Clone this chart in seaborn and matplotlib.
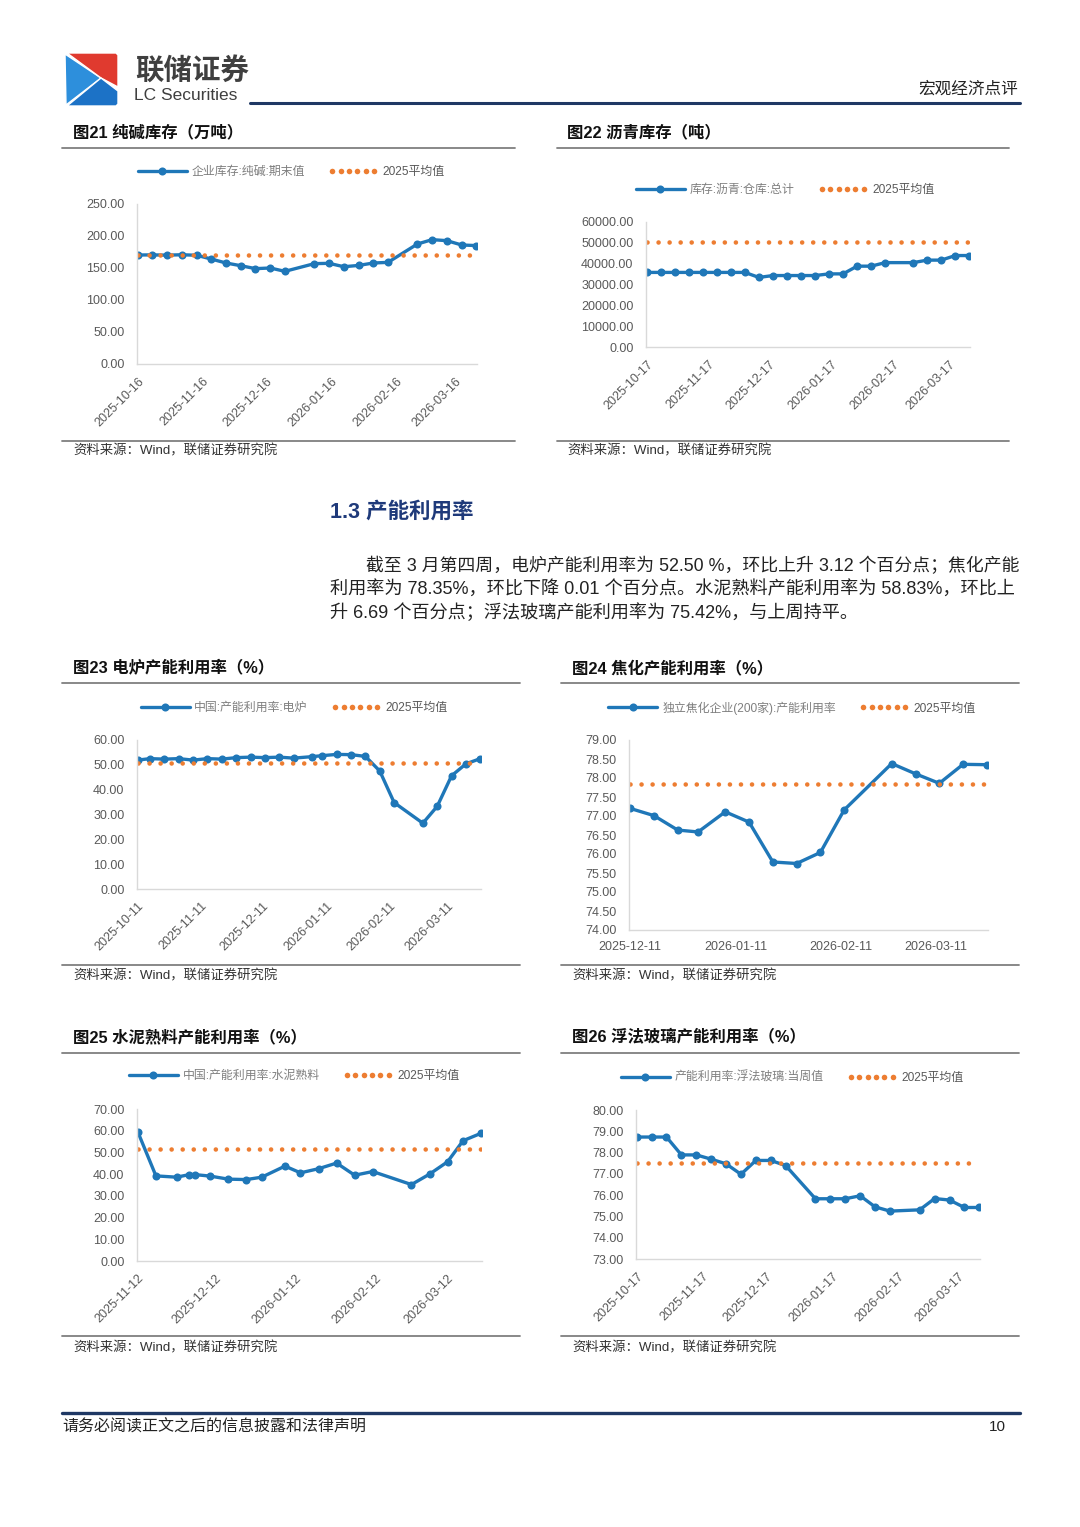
import numpy as np
import pandas as pd
import matplotlib
matplotlib.use("Agg")
import matplotlib.pyplot as plt
from matplotlib.lines import Line2D
from matplotlib.patches import Polygon
from matplotlib.ticker import FormatStrFormatter
from matplotlib.legend_handler import HandlerLine2D
import seaborn as sns

W, H = 1080, 1527

# 图21 纯碱库存（万吨）
soda_dates = ['2025-10-16', '2025-10-23', '2025-10-30', '2025-11-06', '2025-11-13', '2025-11-20',
              '2025-11-27', '2025-12-04', '2025-12-11', '2025-12-18', '2025-12-25', '2026-01-08',
              '2026-01-15', '2026-01-22', '2026-01-29', '2026-02-05', '2026-02-12', '2026-02-26',
              '2026-03-05', '2026-03-12', '2026-03-19', '2026-03-26']
soda_vals = [170.3, 170.5, 170.1, 170.7, 169.9, 164.0, 157.8, 153.6, 149.0, 150.0, 144.8, 156.8,
             157.3, 152.0, 154.0, 157.8, 158.8, 187.5, 194.3, 192.7, 186.0, 185.0]
soda_avg = 169.7
soda_ticks = ['2025-10-16', '2025-11-16', '2025-12-16', '2026-01-16', '2026-02-16', '2026-03-16']

# 图22 沥青库存（吨）
asph_dates = ['2025-10-17', '2025-10-24', '2025-10-31', '2025-11-07', '2025-11-14', '2025-11-21',
              '2025-11-28', '2025-12-05', '2025-12-12', '2025-12-19', '2025-12-26', '2026-01-02',
              '2026-01-09', '2026-01-16', '2026-01-23', '2026-01-30', '2026-02-06', '2026-02-13',
              '2026-02-27', '2026-03-06', '2026-03-13', '2026-03-20', '2026-03-27']
asph_vals = [35800, 35800, 35800, 35800, 35800, 35800, 35800, 35800, 33400, 34300, 34300, 34300,
             34300, 35100, 35100, 38800, 38800, 40500, 40500, 41700, 41700, 43900, 43900]
asph_avg = 50600
asph_ticks = ['2025-10-17', '2025-11-17', '2025-12-17', '2026-01-17', '2026-02-17', '2026-03-17']

# 图23 电炉产能利用率（%）
eaf_dates = ['2025-10-11', '2025-10-17', '2025-10-24', '2025-10-31', '2025-11-07', '2025-11-14',
             '2025-11-21', '2025-11-28', '2025-12-05', '2025-12-12', '2025-12-19', '2025-12-26',
             '2026-01-04', '2026-01-09', '2026-01-16', '2026-01-23', '2026-01-30', '2026-02-06',
             '2026-02-13', '2026-02-27', '2026-03-06', '2026-03-13', '2026-03-20', '2026-03-27']
eaf_vals = [51.9, 52.5, 52.3, 52.5, 51.9, 52.5, 52.3, 52.9, 53.1, 52.9, 53.1, 52.7,
            53.3, 53.7, 54.2, 54.1, 53.4, 47.5, 34.8, 26.5, 33.3, 45.6, 50.4, 52.5]
eaf_avg = 50.6
eaf_ticks = ['2025-10-11', '2025-11-11', '2025-12-11', '2026-01-11', '2026-02-11', '2026-03-11']

# 图24 焦化产能利用率（%）
coke_dates = ['2025-12-11', '2025-12-18', '2025-12-25', '2025-12-31', '2026-01-08', '2026-01-15',
              '2026-01-22', '2026-01-29', '2026-02-05', '2026-02-12', '2026-02-26', '2026-03-05',
              '2026-03-12', '2026-03-19', '2026-03-26']
coke_vals = [77.20, 77.01, 76.63, 76.58, 77.11, 76.84, 75.79, 75.75, 76.04, 77.16, 78.38, 78.11,
             77.86, 78.36, 78.35]
coke_avg = 77.85
coke_ticks = ['2025-12-11', '2026-01-11', '2026-02-11', '2026-03-11']

# 图25 水泥熟料产能利用率（%）
cem_dates = ['2025-11-12', '2025-11-19', '2025-11-27', '2025-12-02', '2025-12-04', '2025-12-10',
             '2025-12-17', '2025-12-24', '2025-12-30', '2026-01-08', '2026-01-14', '2026-01-21',
             '2026-01-28', '2026-02-04', '2026-02-11', '2026-02-26', '2026-03-05', '2026-03-12',
             '2026-03-18', '2026-03-25']
cem_vals = [59.4, 39.2, 38.6, 39.8, 39.8, 39.1, 37.7, 37.5, 38.6, 43.7, 40.6, 42.5,
            45.1, 39.5, 41.2, 35.2, 40.0, 45.7, 55.4, 58.83]
cem_avg = 51.8
cem_ticks = ['2025-11-12', '2025-12-12', '2026-01-12', '2026-02-12', '2026-03-12']

# 图26 浮法玻璃产能利用率（%）
glass_dates = ['2025-10-17', '2025-10-24', '2025-10-31', '2025-11-07', '2025-11-14', '2025-11-21',
               '2025-11-28', '2025-12-05', '2025-12-12', '2025-12-19', '2025-12-26', '2026-01-09',
               '2026-01-16', '2026-01-23', '2026-01-30', '2026-02-06', '2026-02-13', '2026-02-27',
               '2026-03-06', '2026-03-13', '2026-03-20', '2026-03-27']
glass_vals = [78.73, 78.73, 78.73, 77.89, 77.89, 77.69, 77.47, 76.98, 77.63, 77.63, 77.39, 75.83,
              75.83, 75.83, 75.97, 75.45, 75.25, 75.31, 75.84, 75.77, 75.42, 75.42]
glass_avg = 77.53
glass_ticks = ['2025-10-17', '2025-11-17', '2025-12-17', '2026-01-17', '2026-02-17', '2026-03-17']

BLUE = '#1f77b8'
ORANGE = '#ed7d31'
NAVY = '#1f3864'
GRAY = '#595959'

sns.set_theme(style="white")
plt.rcParams['font.family'] = ['Liberation Sans', 'Noto Sans CJK SC', 'DejaVu Sans']
plt.rcParams['axes.unicode_minus'] = False

fig = plt.figure(figsize=(W / 100, H / 100), dpi=100)
fig.patch.set_facecolor('white')


def fx(x):
    return x / W


def fy(y):
    return 1 - y / H


def hline(x0, x1, y, color='#808080', lw=1.2):
    fig.add_artist(Line2D([fx(x0), fx(x1)], [fy(y), fy(y)], color=color, lw=lw,
                          transform=fig.transFigure))


def txt(x, y, s, **kw):
    kw.setdefault('va', 'center')
    fig.text(fx(x), fy(y), s, **kw)


def chart(box, dates, vals, avg, label, ticks, ylim, ystep, leg_xy, rotate=True):
    l, t, r, b = box
    ax = fig.add_axes([fx(l), fy(b), (r - l) / W, (b - t) / H])
    df = pd.DataFrame({'date': pd.to_datetime(dates), 'value': vals})
    df_avg = pd.DataFrame({'date': df['date'], 'value': [avg] * len(df)})
    sns.lineplot(data=df, x='date', y='value', ax=ax, color=BLUE, linewidth=2.4,
                 marker='o', markersize=5.8, markeredgewidth=0, legend=False)
    sns.lineplot(data=df_avg, x='date', y='value', ax=ax, color=ORANGE, linewidth=3.3,
                 linestyle=(0, (0.01, 2.4)), dash_capstyle='round', legend=False)
    pad = pd.Timedelta(hours=8)
    ax.set_xlim(df['date'].min() - pad, df['date'].max() + pad)
    ax.set_ylim(*ylim)
    ax.set_yticks(np.arange(ylim[0], ylim[1] + ystep / 2, ystep))
    ax.yaxis.set_major_formatter(FormatStrFormatter('%.2f'))
    if rotate:
        ax.set_xticks(pd.to_datetime(ticks), labels=ticks, rotation=45, ha='right',
                      rotation_mode='anchor')
    else:
        ax.set_xticks(pd.to_datetime(ticks), labels=ticks)
    ax.set_xlabel('')
    ax.set_ylabel('')
    for s in ['top', 'right']:
        ax.spines[s].set_visible(False)
    for s in ['left', 'bottom']:
        ax.spines[s].set_color('#d9d9d9')
        ax.spines[s].set_linewidth(1.0)
    ax.tick_params(axis='x', direction='in', length=4, color='#d9d9d9', labelsize=9,
                   labelcolor=GRAY, pad=8)
    ax.tick_params(axis='y', length=0, labelsize=9, labelcolor=GRAY, pad=9)

    # legend: line with one marker, and a row of six orange dots
    h_line = Line2D([], [], color=BLUE, lw=2.4, marker='o', markersize=5.8, markeredgewidth=0)
    h_dots = Line2D([], [], color=ORANGE, ls='none', marker='o', markersize=4.0,
                    markeredgewidth=0)
    leg = ax.legend([h_line, h_dots], [label, '2025平均值'],
                    handler_map={h_line: HandlerLine2D(numpoints=1),
                                 h_dots: HandlerLine2D(numpoints=6)},
                    loc='center', bbox_to_anchor=(fx(leg_xy[0]), fy(leg_xy[1])),
                    bbox_transform=fig.transFigure, ncol=2, frameon=False, fontsize=8.6,
                    handlelength=4.1, handletextpad=0.4, columnspacing=2.0)
    for t_, c in zip(leg.get_texts(), ['#7f7f7f', GRAY]):
        t_.set_color(c)
    return ax


# ---- header ----
logo = fig.add_axes([fx(64), fy(107), 56 / W, 56 / H])
logo.set_xlim(64, 120)
logo.set_ylim(107, 51)
logo.axis('off')
logo.add_patch(Polygon([(65, 54), (101, 78), (66, 105)], closed=True, fc='#2d8fdc', ec='white', lw=1))
logo.add_patch(Polygon([(67, 53), (116, 53), (118, 55), (118, 87), (101, 78)], closed=True,
                       fc='#e03a2f', ec='white', lw=1))
logo.add_patch(Polygon([(67, 106), (101, 78), (118, 91), (118, 104), (116, 106)], closed=True,
                       fc='#1c72c6', ec='white', lw=1))
txt(135, 71, '联储证券', fontsize=20.5, fontweight='bold', color='#3f3f3f')
txt(134, 96, 'LC Securities', fontsize=12.5, color='#3f3f3f')
hline(250, 1020, 103, color=NAVY, lw=2.2)
txt(1018, 89, '宏观经济点评', fontsize=12, color='#222222', ha='right')

# ---- chart frames ----
frames = [
    (62, 515, 73, 132, 148, 441, 451, '图21 纯碱库存（万吨）'),
    (557, 1009, 567, 132, 148, 441, 451, '图22 沥青库存（吨）'),
    (62, 520, 73, 668, 683, 965, 976, '图23 电炉产能利用率（%）'),
    (561, 1019, 572, 668, 683, 965, 976, '图24 焦化产能利用率（%）'),
    (62, 520, 73, 1037, 1053, 1336, 1348, '图25 水泥熟料产能利用率（%）'),
    (561, 1019, 572, 1037, 1053, 1336, 1348, '图26 浮法玻璃产能利用率（%）'),
]
for x0, x1, tx, ty, ly, sy, st, title in frames:
    txt(tx, ty, title, fontsize=11.8, fontweight='bold', color='#111111')
    hline(x0, x1, ly, color='#7f7f7f', lw=1.3)
    hline(x0, x1, sy, color='#7f7f7f', lw=1.3)
    txt(tx, st, '资料来源：Wind，联储证券研究院', fontsize=9.6, color='#333333')

chart((137, 204, 477, 364), soda_dates, soda_vals, soda_avg, '企业库存:纯碱:期末值',
      soda_ticks, (0, 250), 50, (291, 172))
chart((646, 222, 970, 347), asph_dates, asph_vals, asph_avg, '库存:沥青:仓库:总计',
      asph_ticks, (0, 60000), 10000, (785, 190))
chart((137, 740, 481, 889), eaf_dates, eaf_vals, eaf_avg, '中国:产能利用率:电炉',
      eaf_ticks, (0, 60), 10, (294, 708))
chart((629, 740, 988, 930), coke_dates, coke_vals, coke_avg, '独立焦化企业(200家):产能利用率',
      coke_ticks, (74, 79), 0.5, (792, 708), rotate=False)
chart((137, 1109, 482, 1261), cem_dates, cem_vals, cem_avg, '中国:产能利用率:水泥熟料',
      cem_ticks, (0, 70), 10, (294, 1076))
chart((636, 1110, 980, 1259), glass_dates, glass_vals, glass_avg, '产能利用率:浮法玻璃:当周值',
      glass_ticks, (73, 80), 1, (792, 1078))

# ---- section text ----
txt(330, 512, '1.3 产能利用率', fontsize=15.5, fontweight='bold', color='#1f3a7a')
para = [
    (366, 566, '截至 3 月第四周，电炉产能利用率为 52.50 %，环比上升 3.12 个百分点；焦化产能', 12.85),
    (330, 590, '利用率为 78.35%，环比下降 0.01 个百分点。水泥熟料产能利用率为 58.83%，环比上', 13.1),
    (330, 613, '升 6.69 个百分点；浮法玻璃产能利用率为 75.42%，与上周持平。', 13.1),
]
for x, y, s, fs in para:
    txt(x, y, s, fontsize=fs, color='#222222')

# ---- footer ----
hline(62, 1020, 1413, color=NAVY, lw=2.4)
txt(62, 1427, '请务必阅读正文之后的信息披露和法律声明', fontsize=11.5, color='#222222')
txt(1006, 1427, '10', fontsize=11, color='#222222', ha='right')

fig.savefig('out.png', dpi=100, facecolor='white')
